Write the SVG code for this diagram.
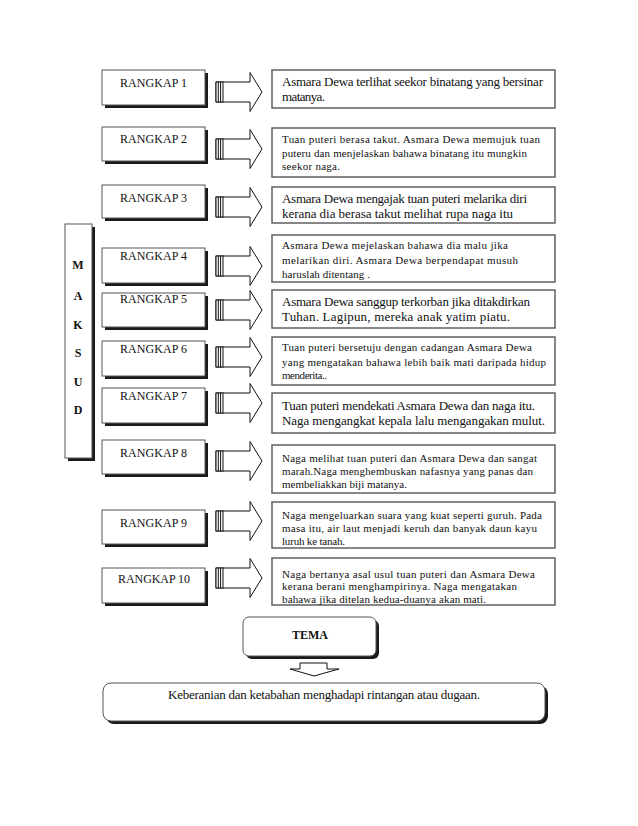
<svg xmlns="http://www.w3.org/2000/svg" width="638" height="826" viewBox="0 0 638 826">
<defs>
<style>
.bg{fill:#ffffff}
.shadow{fill:#1a1a1a}
.lbox{fill:#ffffff;stroke:#555;stroke-width:1}
.rbox{fill:#ffffff;stroke:#555;stroke-width:1.4}
.arrow{fill:#ffffff;stroke:#111;stroke-width:1}
.stripe{stroke:#111;stroke-width:1}
.lbl{font-family:"Liberation Serif","Times New Roman",serif;font-size:12px;fill:#111}
.big{font-family:"Liberation Serif","Times New Roman",serif;font-size:13px;fill:#111}
.small{font-family:"Liberation Serif","Times New Roman",serif;font-size:11px;fill:#111}
.bold{font-family:"Liberation Serif","Times New Roman",serif;font-size:12px;font-weight:bold;fill:#111}
</style>
<g id="tail">
<rect x="216" y="-10" width="7" height="20" fill="#fff" stroke="#111" stroke-width="1"/>
<line x1="218.3" y1="-10" x2="218.3" y2="10" class="stripe"/>
<line x1="220.6" y1="-10" x2="220.6" y2="10" class="stripe"/>
</g>
<polygon id="harrow" class="arrow" points="216,-10 250,-10 250,-19.5 262,0 250,19.5 250,10 216,10"/>
</defs>
<rect width="638" height="826" class="bg"/>

<g id="maksud">
<rect x="68" y="227" width="27" height="234" class="shadow"/>
<rect x="65" y="224" width="27" height="234" class="lbox"/>
<text class="bold" x="78" y="269" text-anchor="middle">M</text>
<text class="bold" x="78" y="300" text-anchor="middle">A</text>
<text class="bold" x="78" y="329" text-anchor="middle">K</text>
<text class="bold" x="78" y="357" text-anchor="middle">S</text>
<text class="bold" x="78" y="386" text-anchor="middle">U</text>
<text class="bold" x="78" y="414" text-anchor="middle">D</text>
</g>

<g id="r1"><rect x="105" y="73" width="103" height="35" class="shadow"/><rect x="102" y="70" width="103" height="35" class="lbox"/><text class="lbl" x="120" y="87" textLength="67">RANGKAP 1</text></g>
<g id="r2"><rect x="105" y="130" width="103" height="34" class="shadow"/><rect x="102" y="127" width="103" height="34" class="lbox"/><text class="lbl" x="120" y="143" textLength="67">RANGKAP 2</text></g>
<g id="r3"><rect x="105" y="188" width="103" height="33" class="shadow"/><rect x="102" y="185" width="103" height="33" class="lbox"/><text class="lbl" x="120" y="202" textLength="67">RANGKAP 3</text></g>
<g id="r4"><rect x="105" y="251" width="103" height="35" class="shadow"/><rect x="102" y="248" width="103" height="35" class="lbox"/><text class="lbl" x="120" y="260" textLength="67">RANGKAP 4</text></g>
<g id="r5"><rect x="105" y="296" width="103" height="34" class="shadow"/><rect x="102" y="293" width="103" height="34" class="lbox"/><text class="lbl" x="120" y="303" textLength="67">RANGKAP 5</text></g>
<g id="r6"><rect x="105" y="344" width="103" height="35" class="shadow"/><rect x="102" y="341" width="103" height="35" class="lbox"/><text class="lbl" x="120" y="353" textLength="67">RANGKAP 6</text></g>
<g id="r7"><rect x="105" y="391" width="103" height="35" class="shadow"/><rect x="102" y="388" width="103" height="35" class="lbox"/><text class="lbl" x="120" y="400" textLength="67">RANGKAP 7</text></g>
<g id="r8"><rect x="105" y="443" width="103" height="34" class="shadow"/><rect x="102" y="440" width="103" height="34" class="lbox"/><text class="lbl" x="120" y="457" textLength="67">RANGKAP 8</text></g>
<g id="r9"><rect x="105" y="513" width="103" height="34" class="shadow"/><rect x="102" y="510" width="103" height="34" class="lbox"/><text class="lbl" x="120" y="527" textLength="67">RANGKAP 9</text></g>
<g id="r10"><rect x="105" y="571" width="103" height="35" class="shadow"/><rect x="102" y="568" width="103" height="35" class="lbox"/><text class="lbl" x="118" y="583" textLength="72">RANGKAP 10</text></g>

<g id="connectors">
<use href="#harrow" y="92"/><use href="#tail" y="92"/>
<use href="#harrow" y="149"/><use href="#tail" y="149"/>
<use href="#harrow" y="207"/><use href="#tail" y="207"/>
<use href="#harrow" y="266"/><use href="#tail" y="266"/>
<use href="#harrow" y="310"/><use href="#tail" y="310"/>
<use href="#harrow" y="357"/><use href="#tail" y="357"/>
<use href="#harrow" y="403"/><use href="#tail" y="403"/>
<use href="#harrow" y="461"/><use href="#tail" y="461"/>
<use href="#harrow" y="521"/><use href="#tail" y="521"/>
<use href="#harrow" y="578"/><use href="#tail" y="578"/>
<polygon class="arrow" points="300,663 327,663 327,669 339,669 314,676 290,669 300,669"/>
</g>

<g id="t1"><rect x="272" y="70" width="283" height="38" class="rbox"/>
<text class="big" x="282" y="86" textLength="261">Asmara Dewa terlihat seekor binatang yang bersinar</text>
<text class="big" x="282" y="101" textLength="43">matanya.</text></g>

<g id="t2"><rect x="272" y="128" width="283" height="49" class="rbox"/>
<text class="small" x="282" y="142.5" textLength="258">Tuan puteri berasa takut. Asmara Dewa memujuk tuan</text>
<text class="small" x="282" y="156.5" textLength="245">puteru dan menjelaskan bahawa binatang itu mungkin</text>
<text class="small" x="282" y="170" textLength="58">seekor naga.</text></g>

<g id="t3"><rect x="272" y="187" width="283" height="36" class="rbox"/>
<text class="big" x="282" y="203" textLength="245">Asmara Dewa mengajak tuan puteri melarika diri</text>
<text class="big" x="282" y="218" textLength="231">kerana dia berasa takut melihat rupa naga itu</text></g>

<g id="t4"><rect x="272" y="235" width="283" height="47" class="rbox"/>
<text class="small" x="282" y="249" textLength="226">Asmara Dewa mejelaskan bahawa dia malu jika</text>
<text class="small" x="282" y="264" textLength="236">melarikan diri. Asmara Dewa berpendapat musuh</text>
<text class="small" x="282" y="278" textLength="88">haruslah ditentang .</text></g>

<g id="t5"><rect x="272" y="290" width="283" height="38" class="rbox"/>
<text class="big" x="282" y="306" textLength="248">Asmara Dewa sanggup terkorban jika ditakdirkan</text>
<text class="big" x="282" y="321" textLength="228">Tuhan. Lagipun, mereka anak yatim piatu.</text></g>

<g id="t6"><rect x="272" y="337" width="283" height="48" class="rbox"/>
<text class="small" x="282" y="351" textLength="250">Tuan puteri bersetuju dengan cadangan Asmara Dewa</text>
<text class="small" x="282" y="366" textLength="264">yang mengatakan bahawa lebih baik mati daripada hidup</text>
<text class="small" x="282" y="379" textLength="45">menderita..</text></g>

<g id="t7"><rect x="272" y="393" width="283" height="40" class="rbox"/>
<text class="big" x="282" y="410" textLength="253">Tuan puteri mendekati Asmara Dewa dan naga itu.</text>
<text class="big" x="282" y="425" textLength="263">Naga mengangkat kepala lalu mengangakan mulut.</text></g>

<g id="t8"><rect x="272" y="445" width="283" height="48" class="rbox"/>
<text class="small" x="282" y="462" textLength="255">Naga melihat tuan puteri dan Asmara Dewa dan sangat</text>
<text class="small" x="282" y="475" textLength="251">marah.Naga menghembuskan nafasnya yang panas dan</text>
<text class="small" x="282" y="488" textLength="125">membeliakkan biji matanya.</text></g>

<g id="t9"><rect x="272" y="502" width="283" height="46" class="rbox"/>
<text class="small" x="282" y="519" textLength="260">Naga mengeluarkan suara yang kuat seperti guruh. Pada</text>
<text class="small" x="282" y="532" textLength="255">masa itu, air laut menjadi keruh dan banyak daun kayu</text>
<text class="small" x="282" y="545" textLength="63">luruh ke tanah.</text></g>

<g id="t10"><rect x="272" y="558" width="283" height="47" class="rbox"/>
<text class="small" x="282" y="578" textLength="253">Naga bertanya asal usul tuan puteri dan Asmara Dewa</text>
<text class="small" x="282" y="590" textLength="235">kerana berani menghampirinya. Naga mengatakan</text>
<text class="small" x="282" y="603" textLength="204">bahawa jika ditelan kedua-duanya akan mati.</text></g>

<g id="tema"><rect x="246" y="620" width="133" height="39" rx="6" class="shadow"/>
<rect x="243" y="617" width="133" height="39" rx="6" class="lbox"/>
<text class="bold" x="310" y="639" text-anchor="middle">TEMA</text></g>

<g id="theme-text"><rect x="106" y="686" width="442" height="38" rx="8" class="shadow"/>
<rect x="103" y="683" width="442" height="38" rx="8" class="lbox"/>
<text class="big" x="168" y="699" textLength="312">Keberanian dan ketabahan menghadapi rintangan atau dugaan.</text></g>
</svg>
